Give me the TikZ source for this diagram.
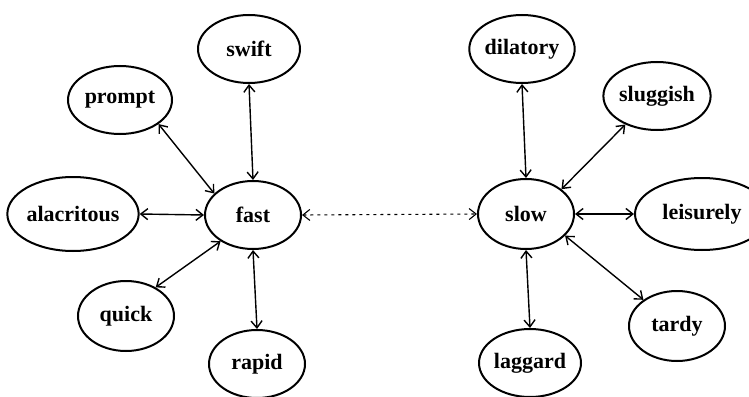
\documentclass[tikz,border=0pt]{standalone}
\usepackage{fontspec}
\setmainfont{Liberation Serif}
\usetikzlibrary{shapes.geometric,arrows.meta}

\tikzset{
  word/.style={ellipse, draw, line width=2pt, inner sep=0pt,
    minimum width=96pt, minimum height=68pt,
    font=\fontsize{22}{22}\selectfont\bfseries},
  link/.style={{Straight Barb[length=7pt,width=11pt]}-{Straight Barb[length=7pt,width=11pt]}, line width=1.4pt},
  far/.style={link, dash pattern=on 3pt off 4pt, line width=1.1pt}
}

\begin{document}
\begin{tikzpicture}[x=1pt, y=-1pt]
    \useasboundingbox (0,0) rectangle (749,396);
    % the fast side
    \node[word] (fast)  at (253,215) {fast};
    \node[word, minimum width=102pt] (swift)  at (249,49)  {swift};
    \node[word, minimum width=104pt] (prompt) at (120,100) {prompt};
    \node[word, minimum width=130pt, minimum height=74pt] (alacritous) at (73,214) {alacritous};
    \node[word, minimum height=70pt] (quick)  at (126,316) {quick};
    \node[word] (rapid) at (257,364) {rapid};
    % the slow side
    \node[word, minimum height=70pt] (slow) at (526,214) {slow};
    \node[word] (dilatory) at (522,49) {dilatory};
    \node[word, minimum width=94pt] (sluggish) at (657,96) {sluggish};
    \node[word, minimum width=134pt, minimum height=72pt] (leisurely) at (702,214) {leisurely};
    \node[word, minimum height=70pt] (tardy) at (677,326) {tardy};
    \node[word] (laggard) at (530,363) {laggard};
    % links
    \draw[link] (swift.south) -- (fast.north);
    \draw[link] (prompt.-32) -- (fast.151);
    \draw[link] (alacritous.east) -- (fast.west);
    \draw[link] (quick.44) -- (fast.219);
    \draw[link] (fast.south) -- (rapid.north);
    \draw[far]  (fast.east) -- (slow.west);
    \draw[link] (dilatory.south) -- (slow.north);
    \draw[link] (sluggish.222) -- (slow.35);
    \draw[link] (slow.east) -- (leisurely.west);
    \draw[link] (slow.-29) -- (tardy.142);
    \draw[link] (slow.south) -- (laggard.north);
\end{tikzpicture}
\end{document}
